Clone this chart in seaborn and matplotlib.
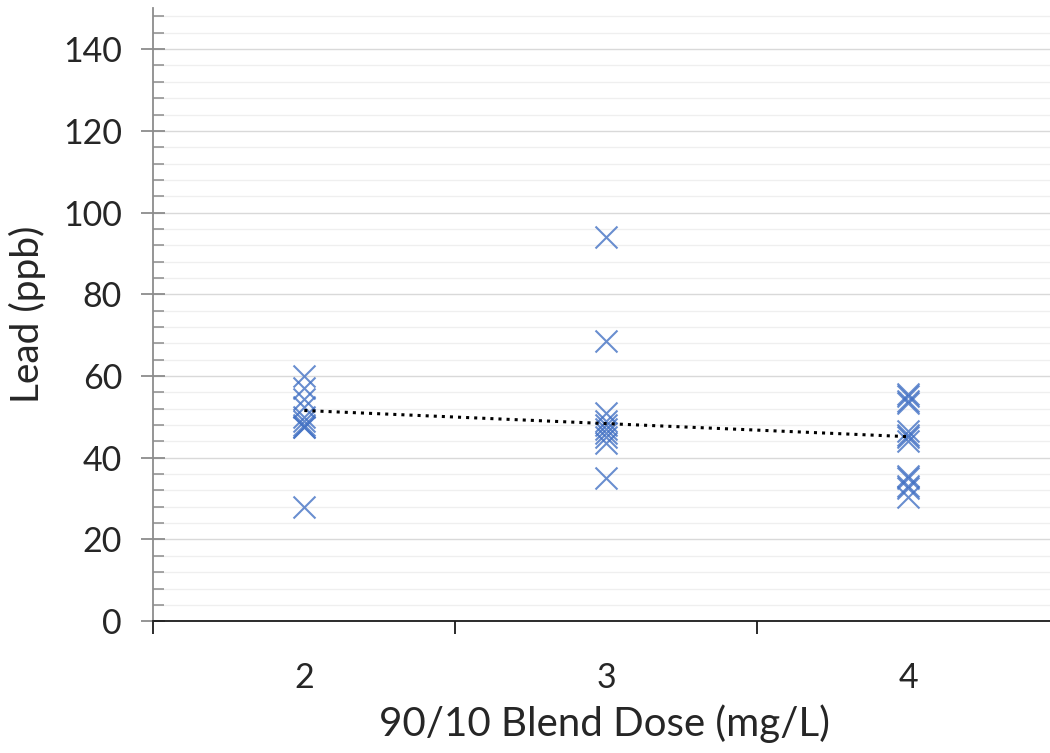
import numpy as np
import pandas as pd
import matplotlib
matplotlib.use("Agg")
import matplotlib.pyplot as plt
import seaborn as sns
from matplotlib.ticker import MultipleLocator, FixedLocator

# values (overlapping markers estimated)
dose_2 = [60, 57, 54.5, 52.5, 50, 49, 48, 47.5, 47.5, 28]
dose_3 = [94, 68.5, 51, 49, 48, 47, 46, 45, 43.5, 35]
dose_4 = [55.5, 55, 54, 53.5, 46.5, 45.5, 45, 44, 35.5, 35, 33, 32.5, 30.5]

x_ticks = [2, 3, 4]
x_label = "90/10 Blend Dose (mg/L)"
y_label = "Lead (ppb)"

data = pd.DataFrame({
    "dose": [2] * len(dose_2) + [3] * len(dose_3) + [4] * len(dose_4),
    "lead": dose_2 + dose_3 + dose_4,
})

sns.set_style("white")
plt.rcParams["font.family"] = ["Lato", "DejaVu Sans"]
fontsize = 24.5

fig = plt.figure(figsize=(10.5, 7.53), dpi=100)
ax = fig.add_axes([0.146, 0.175, 0.86, 0.814])

sns.regplot(
    x="dose", y="lead", data=data, ax=ax, ci=None, marker="x",
    scatter_kws={"s": 250, "color": "#4472C4", "linewidths": 1.5},
    line_kws={"color": "black", "linestyle": ":", "linewidth": 2.2},
)

ax.set_xlim(1.5, 4.49)
ax.set_ylim(0, 150)
ax.yaxis.set_major_locator(FixedLocator([0, 20, 40, 60, 80, 100, 120, 140]))
ax.yaxis.set_minor_locator(MultipleLocator(4))
ax.xaxis.set_major_locator(FixedLocator(x_ticks))
ax.xaxis.set_minor_locator(FixedLocator([1.5, 2.5, 3.5]))

ax.grid(True, which="major", axis="y", color="#d9d9d9", linewidth=1.0)
ax.grid(True, which="minor", axis="y", color="#efefef", linewidth=0.9)
ax.grid(False, axis="x")
ax.set_axisbelow(True)

for side in ["top", "right"]:
    ax.spines[side].set_visible(False)
ax.spines["left"].set_color("#8c8c8c")
ax.spines["left"].set_linewidth(1.3)
ax.spines["bottom"].set_color("#1a1a1a")
ax.spines["bottom"].set_linewidth(1.3)

ax.tick_params(axis="y", which="both", left=True)
ax.tick_params(axis="x", which="both", bottom=True)
ax.tick_params(axis="y", which="major", direction="inout", length=17,
               width=1.3, color="#8c8c8c", labelsize=fontsize, pad=14)
ax.tick_params(axis="y", which="minor", direction="in", length=8,
               width=1.1, color="#8c8c8c")
ax.tick_params(axis="x", which="major", length=0, labelsize=fontsize, pad=29)
ax.tick_params(axis="x", which="minor", direction="out", length=9,
               width=1.3, color="#1a1a1a")

ax.set_xlabel(x_label, fontsize=29, labelpad=8)
ax.set_ylabel(y_label, fontsize=28, labelpad=12)

plt.savefig("out.png", dpi=100)
